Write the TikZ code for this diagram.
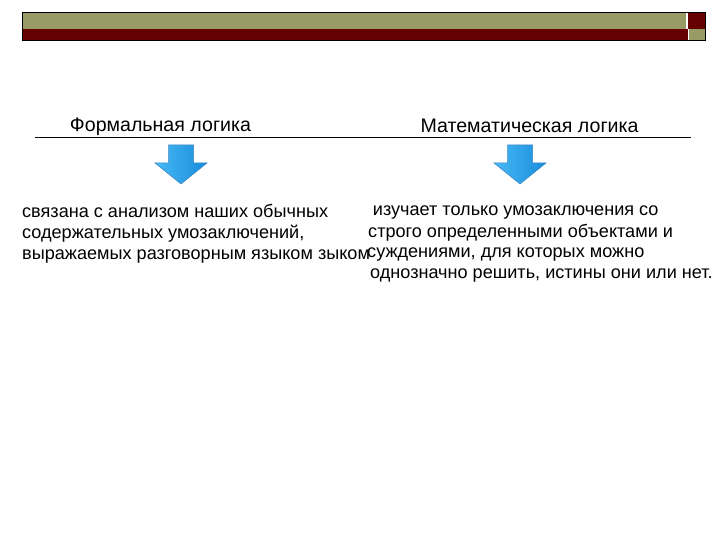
\documentclass[tikz,border=0pt]{standalone}
\usepackage{fontspec}
\setmainfont{Liberation Sans}
\definecolor{barolive}{RGB}{152,155,102}
\definecolor{barred}{RGB}{102,0,0}
\definecolor{arrowlight}{RGB}{70,185,245}
\definecolor{arrowdark}{RGB}{25,140,220}
\definecolor{arrowedge}{RGB}{60,130,190}

\begin{document}
\begin{tikzpicture}[x=1pt,y=-1pt,
  txt/.style={anchor=base west,inner sep=0pt,font=\fontsize{18.1}{21}\selectfont},
  head/.style={anchor=base,inner sep=0pt,font=\fontsize{19.6}{23}\selectfont},
  blockarrow/.style={left color=arrowlight,right color=arrowdark,draw=arrowedge,line width=0.5pt}]
\useasboundingbox (0,0) rectangle (720,540);

% title bar
\fill[barolive] (22,12.3) rectangle (686,29.3);
\fill[barred] (22,29.3) rectangle (688,40.7);
\fill[barred] (688,12.3) rectangle (705,29.3);
\fill[barolive] (689,29.3) rectangle (705,40.7);
\draw[line width=0.8pt] (22,12.3) rectangle (705,40.7);

\node[head] (fl) at (160.5,131.7) {Формальная логика};
\node[head] (ml) at (529.5,133) {Математическая логика};
\coordinate (rl) at (35,137);
\coordinate (rr) at (691,137);
\draw[line width=0.6pt] (rl) -- (rr);

\foreach \cx in {181,520}
  \draw[blockarrow] (\cx-12.5,145) -- (\cx+12.5,145) -- (\cx+12.5,163) -- (\cx+26,163)
    -- (\cx,184) -- (\cx-26,163) -- (\cx-12.5,163) -- cycle;

\node[txt] (fa) at (22,217.3) {связана с анализом наших обычных};
\node[txt] (fb) at (22,238.3) {содержательных умозаключений,};
\node[txt] (fc) at (22,259.3) {выражаемых разговорным языком зыком};

\node[txt] (ma) at (372.7,215.7) {изучает только умозаключения со};
\node[txt] (mb) at (368,237.7) {строго определенными объектами и};
\node[txt] (mc) at (367,257.7) {суждениями, для которых можно};
\node[txt] (md) at (370,278.3) {однозначно решить, истины они или нет.};

\end{tikzpicture}
\end{document}
